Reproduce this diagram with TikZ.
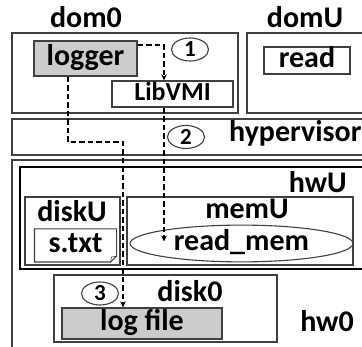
\documentclass[tikz,border=0pt]{standalone}
\usepackage{fontspec}
\setmainfont{Carlito}
\usetikzlibrary{arrows.meta,shapes.geometric}

\begin{document}
\begin{tikzpicture}[x=1pt,y=-1pt,
    frame/.style={draw=black!75,line width=1.1pt},
    lbl/.style={inner sep=0pt,anchor=base,font=\fontsize{30}{30}\selectfont\bfseries},
    item/.style={frame,rectangle,inner sep=0pt,text height=20pt,text depth=6pt,
                 font=\fontsize{30}{30}\selectfont\bfseries},
    num/.style={frame,ellipse,inner sep=0pt,minimum width=37pt,minimum height=23pt,
                font=\fontsize{23}{23}\selectfont\bfseries},
    flow/.style={-{Stealth[length=6pt,width=5.5pt]},line width=2pt,dash pattern=on 5.5pt off 3pt}]
  \useasboundingbox (0,0) rectangle (362,347);
  \clip (0,0) rectangle (362,347);

  % containers
  \draw[frame] (12,33) rectangle (238,113);
  \draw[frame] (247,33) rectangle (380,113);
  \draw[frame] (12,119) rectangle (380,155);
  \draw[frame] (12,160) rectangle (380,380);
  \draw[line width=2.8pt] (20,167) rectangle (380,269);
  \draw[frame] (25,197) rectangle (120,265);
  \draw[frame] (127,197) rectangle (353,265);
  \draw[frame] (54,275) rectangle (277,342);

  \node[lbl] (dom0) at (86,28) {dom0};
  \node[lbl] (domU) at (305,28) {domU};
  \node[lbl,anchor=base west] (hyp) at (229,142) {hypervisor};
  \node[lbl,anchor=base east] (hwU) at (347,193) {hwU};
  \node[lbl] (memU) at (247,219) {memU};
  \node[lbl] (diskU) at (72,222) {diskU};
  \node[lbl] (disk0) at (190,302) {disk0};
  \node[lbl] (hw0) at (327,332) {hw0};

  % boxes with text
  \node[item,fill=black!20,minimum width=103pt,minimum height=35pt] (logger) at (85.5,58.5) {logger};
  \node[item,minimum width=121pt,minimum height=26pt,font=\fontsize{26}{26}\selectfont\bfseries] (libvmi) at (172.5,94) {LibVMI};
  \node[item,minimum width=86pt,minimum height=27pt] (read) at (307,60.5) {read};
  \node[item,draw=none,minimum width=81pt,minimum height=32pt] (stxt) at (75.5,245.5) {s.txt};
  \node[frame,ellipse,inner sep=0pt,minimum width=223pt,minimum height=36pt,
        text height=20pt,text depth=6pt,font=\fontsize{30}{30}\selectfont\bfseries] (readmem) at (241.5,243.5) {read\_mem};
  \node[item,fill=black!20,minimum width=160pt,minimum height=31pt] (logfile) at (142,323.5) {log file};

  \draw[frame] (stxt.north west) -- (stxt.north east) -- ([yshift=6pt]stxt.south east)
    -- ([xshift=-6pt]stxt.south east) -- (stxt.south west) -- cycle;
  \draw[frame,line width=0.6pt] ([xshift=-6pt]stxt.south east) -- ([xshift=-5pt,yshift=5pt]stxt.south east)
    -- ([yshift=6pt]stxt.south east);

  % step numbers
  \node[num] (n1) at (190,49.5) {1};
  \node[num] (n2) at (186,137) {2};
  \node[num] (n3) at (100,293.5) {3};

  % flows
  \coordinate (a) at ([xshift=-8.5pt]libvmi.north);
  \coordinate (b) at ([xshift=-8.5pt]libvmi.south);
  \coordinate (c) at ([xshift=-17.5pt]logger.south);
  \coordinate (d) at ([xshift=-19pt]logfile.north);
  \draw[flow] (logger.north east |- 0,45) -| (a);
  \draw[flow,shorten >=2pt] (b) -- (b |- readmem.center);
  \draw[flow] (c) |- (d |- 0,142) -- (d);
\end{tikzpicture}
\end{document}
